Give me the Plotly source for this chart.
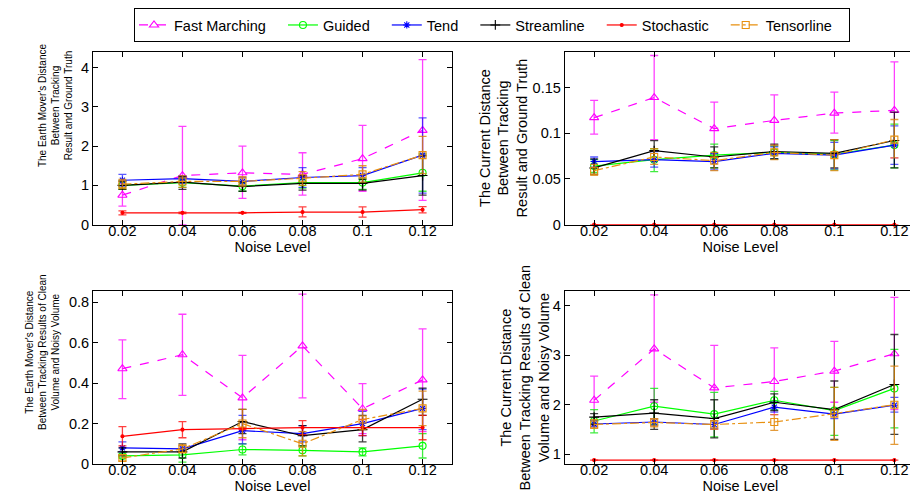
import plotly.graph_objects as go

x_vals = [0.02, 0.04, 0.06, 0.08, 0.10, 0.12]
x_ticktext = ["0.02", "0.04", "0.06", "0.08", "0.1", "0.12"]
methods = ["Fast Marching", "Guided", "Tend", "Streamline", "Stochastic", "Tensorline"]

# Panel 1: Earth Mover's Distance, tracking result vs ground truth
emd_gt_mean = {
    "Fast Marching": [0.75, 1.25, 1.32, 1.28, 1.68, 2.40],
    "Guided":        [1.00, 1.07, 0.98, 1.07, 1.07, 1.32],
    "Tend":          [1.13, 1.17, 1.10, 1.20, 1.25, 1.77],
    "Streamline":    [1.00, 1.08, 0.97, 1.05, 1.05, 1.25],
    "Stochastic":    [0.30, 0.30, 0.30, 0.32, 0.32, 0.38],
    "Tensorline":    [1.03, 1.10, 1.10, 1.18, 1.28, 1.77],
}
emd_gt_hi = {
    "Fast Marching": [1.05, 2.50, 2.00, 1.83, 2.53, 4.20],
    "Guided":        [1.12, 1.20, 1.10, 1.20, 1.18, 1.80],
    "Tend":          [1.28, 1.25, 1.20, 1.45, 1.45, 2.72],
    "Streamline":    [1.10, 1.22, 1.08, 1.25, 1.15, 1.75],
    "Stochastic":    [0.35, 0.32, 0.31, 0.45, 0.45, 0.46],
    "Tensorline":    [1.15, 1.25, 1.22, 1.35, 1.50, 2.25],
}
emd_gt_lo = {
    "Fast Marching": [0.47, 0.00, 0.67, 0.75, 0.85, 0.62],
    "Guided":        [0.90, 0.95, 0.85, 0.93, 0.90, 0.85],
    "Tend":          [0.98, 1.05, 1.00, 0.95, 1.05, 0.80],
    "Streamline":    [0.90, 0.90, 0.85, 0.88, 0.88, 0.75],
    "Stochastic":    [0.25, 0.28, 0.29, 0.20, 0.19, 0.30],
    "Tensorline":    [0.92, 0.95, 0.98, 1.00, 1.08, 1.30],
}

# Panel 2: Current distance, tracking result vs ground truth
cur_gt_mean = {
    "Fast Marching": [0.117, 0.139, 0.105, 0.114, 0.122, 0.125],
    "Guided":        [0.064, 0.071, 0.076, 0.079, 0.077, 0.087],
    "Tend":          [0.069, 0.071, 0.069, 0.078, 0.076, 0.087],
    "Streamline":    [0.062, 0.081, 0.074, 0.080, 0.078, 0.092],
    "Stochastic":    [0.0, 0.0, 0.0, 0.0, 0.0, 0.0],
    "Tensorline":    [0.059, 0.074, 0.070, 0.079, 0.076, 0.093],
}
cur_gt_hi = {
    "Fast Marching": [0.136, 0.185, 0.134, 0.142, 0.145, 0.178],
    "Guided":        [0.071, 0.083, 0.088, 0.086, 0.092, 0.110],
    "Tend":          [0.074, 0.080, 0.078, 0.085, 0.090, 0.108],
    "Streamline":    [0.072, 0.092, 0.085, 0.088, 0.093, 0.123],
    "Stochastic":    [0.0, 0.0, 0.0, 0.0, 0.0, 0.0],
    "Tensorline":    [0.066, 0.083, 0.079, 0.087, 0.093, 0.115],
}
cur_gt_lo = {
    "Fast Marching": [0.099, 0.093, 0.077, 0.087, 0.100, 0.073],
    "Guided":        [0.057, 0.058, 0.062, 0.072, 0.060, 0.062],
    "Tend":          [0.063, 0.063, 0.060, 0.072, 0.061, 0.066],
    "Streamline":    [0.055, 0.070, 0.062, 0.072, 0.062, 0.062],
    "Stochastic":    [0.0, 0.0, 0.0, 0.0, 0.0, 0.0],
    "Tensorline":    [0.054, 0.066, 0.059, 0.071, 0.059, 0.073],
}

# Panel 3: Earth Mover's Distance, clean vs noisy volume
emd_cn_mean = {
    "Fast Marching": [0.471, 0.540, 0.327, 0.584, 0.273, 0.416],
    "Guided":        [0.040, 0.045, 0.072, 0.068, 0.060, 0.090],
    "Tend":          [0.080, 0.075, 0.165, 0.150, 0.200, 0.275],
    "Streamline":    [0.060, 0.060, 0.210, 0.140, 0.170, 0.320],
    "Stochastic":    [0.137, 0.170, 0.175, 0.180, 0.180, 0.180],
    "Tensorline":    [0.030, 0.075, 0.200, 0.100, 0.220, 0.275],
}
emd_cn_hi = {
    "Fast Marching": [0.613, 0.740, 0.537, 0.839, 0.397, 0.668],
    "Guided":        [0.050, 0.070, 0.100, 0.090, 0.080, 0.150],
    "Tend":          [0.110, 0.090, 0.240, 0.190, 0.260, 0.370],
    "Streamline":    [0.080, 0.100, 0.270, 0.190, 0.240, 0.375],
    "Stochastic":    [0.185, 0.210, 0.180, 0.215, 0.220, 0.240],
    "Tensorline":    [0.045, 0.095, 0.270, 0.160, 0.270, 0.360],
}
emd_cn_lo = {
    "Fast Marching": [0.323, 0.339, 0.120, 0.327, 0.150, 0.160],
    "Guided":        [0.030, 0.010, 0.045, 0.040, 0.040, 0.030],
    "Tend":          [0.060, 0.060, 0.100, 0.110, 0.140, 0.170],
    "Streamline":    [0.040, 0.030, 0.150, 0.090, 0.110, 0.240],
    "Stochastic":    [0.090, 0.130, 0.170, 0.145, 0.140, 0.120],
    "Tensorline":    [0.015, 0.055, 0.130, 0.040, 0.170, 0.190],
}

# Panel 4: Current distance, clean vs noisy volume
cur_cn_mean = {
    "Fast Marching": [2.09, 3.13, 2.34, 2.47, 2.68, 3.03],
    "Guided":        [1.67, 1.97, 1.81, 2.09, 1.88, 2.33],
    "Tend":          [1.61, 1.65, 1.60, 1.95, 1.81, 1.99],
    "Streamline":    [1.75, 1.83, 1.72, 2.05, 1.90, 2.41],
    "Stochastic":    [0.88, 0.88, 0.88, 0.88, 0.88, 0.88],
    "Tensorline":    [1.60, 1.64, 1.60, 1.65, 1.82, 2.00],
}
cur_cn_hi = {
    "Fast Marching": [2.58, 4.22, 3.20, 3.15, 3.28, 4.17],
    "Guided":        [1.90, 2.33, 2.25, 2.27, 2.35, 3.12],
    "Tend":          [1.68, 1.72, 1.68, 2.05, 1.90, 2.15],
    "Streamline":    [1.82, 2.10, 2.10, 2.22, 2.48, 3.42],
    "Stochastic":    [0.88, 0.88, 0.88, 0.88, 0.88, 0.88],
    "Tensorline":    [1.70, 1.72, 1.68, 1.80, 2.35, 2.78],
}
cur_cn_lo = {
    "Fast Marching": [1.60, 2.05, 1.50, 1.80, 2.05, 1.90],
    "Guided":        [1.43, 1.60, 1.35, 1.90, 1.38, 1.53],
    "Tend":          [1.55, 1.58, 1.52, 1.85, 1.72, 1.85],
    "Streamline":    [1.60, 1.50, 1.33, 1.88, 1.30, 1.40],
    "Stochastic":    [0.88, 0.88, 0.88, 0.88, 0.88, 0.88],
    "Tensorline":    [1.52, 1.55, 1.50, 1.48, 1.28, 1.20],
}

y_titles = [
    "The Earth Mover's Distance<br>Between Tracking<br>Result and Ground Truth",
    "The Current Distance<br>Between Tracking<br>Result and Ground Truth",
    "The Earth Mover's Distance<br>Between Tracking Results of Clean<br>Volume and Noisy Volume",
    "The Current Distance<br>Between Tracking Results of Clean<br>Volume and Noisy Volume",
]

styles = {
    "Fast Marching": dict(color="#ff00ff", err="rgba(255,0,255,0.75)", dash="dash", symbol="triangle-up-open", size=8),
    "Guided":        dict(color="#00ff00", err="rgba(0,230,0,0.75)", dash="solid", symbol="circle-open", size=7),
    "Tend":          dict(color="#0000ff", err="rgba(0,0,255,0.65)", dash="solid", symbol="asterisk-open", size=6),
    "Streamline":    dict(color="#000000", err="rgba(0,0,0,0.75)", dash="solid", symbol="cross-thin-open", size=7),
    "Stochastic":    dict(color="#ff0000", err="rgba(255,0,0,0.75)", dash="solid", symbol="circle", size=3),
    "Tensorline":    dict(color="#e8900f", err="rgba(220,130,10,0.8)", dash="dashdot", symbol="square-open", size=7),
}

FONT = "Liberation Sans, Arial, Helvetica, sans-serif"
FS = 14.5
NBSP = "\u00a0"

panels = [
    (emd_gt_mean, emd_gt_hi, emd_gt_lo),
    (cur_gt_mean, cur_gt_hi, cur_gt_lo),
    (emd_cn_mean, emd_cn_hi, emd_cn_lo),
    (cur_cn_mean, cur_cn_hi, cur_cn_lo),
]

W, H = 918, 501
# domains in pixels (left, right, top, bottom)
px_boxes = [(85, 444, 42.7, 219), (556.7, 908, 42.7, 219),
            (85, 444, 286.7, 463.3), (556.7, 908, 286.7, 463.3)]
x_ranges = [[0.0102, 0.1298], [0.0102, 0.1272], [0.0102, 0.1298], [0.0102, 0.1272]]
y_ranges = [[0, 4.4], [0, 0.189], [0, 0.855], [0.8, 4.3]]
y_tickvals = [[0, 1, 2, 3, 4], [0, 0.05, 0.1, 0.15], [0, 0.2, 0.4, 0.6, 0.8], [1, 2, 3, 4]]
y_ticktext = [["0", "1", "2", "3", "4"], ["0", "0.05", "0.1", "0.15"],
              ["0", "0.2", "0.4", "0.6", "0.8"], ["1", "2", "3", "4"]]
title_x_px = [47, 496, 34, 517]
title_y_px = [97, 131, 349, 375]
title_fs = [10, 14.5, 10, 14.5]

fig = go.Figure()
layout = {}
annotations = []
for i, (mean, hi, lo) in enumerate(panels):
    xa = "x" if i == 0 else f"x{i+1}"
    ya = "y" if i == 0 else f"y{i+1}"
    for m in methods:
        st = styles[m]
        plus = [h - v for h, v in zip(hi[m], mean[m])]
        minus = [v - l for v, l in zip(mean[m], lo[m])]
        fig.add_trace(go.Scatter(
            x=x_vals, y=mean[m], name=m + NBSP * 3, xaxis=xa, yaxis=ya,
            mode="lines+markers",
            line=dict(color=st["color"], width=1.2, dash=st["dash"]),
            marker=dict(symbol=st["symbol"], size=st["size"], color=st["color"],
                        line=dict(color=st["color"], width=1.1)),
            error_y=dict(type="data", symmetric=False, array=plus, arrayminus=minus,
                         color=st["err"], thickness=1.3, width=4),
            showlegend=(i == 0), legendgroup=m, cliponaxis=False,
        ))
    l, r, t, b = px_boxes[i]
    kx = "xaxis" if i == 0 else f"xaxis{i+1}"
    ky = "yaxis" if i == 0 else f"yaxis{i+1}"
    layout[kx] = dict(
        domain=[l / W, r / W], range=x_ranges[i], anchor=ya,
        tickvals=x_vals, ticktext=x_ticktext,
        ticks="inside", ticklen=5, tickcolor="black", mirror="allticks",
        showline=True, linecolor="black", linewidth=1, showgrid=False, zeroline=False,
        tickfont=dict(family=FONT, size=FS, color="black"), ticklabelstandoff=-7,
        title=dict(text="Noise Level", font=dict(family=FONT, size=FS, color="black"), standoff=0),
    )
    layout[ky] = dict(
        domain=[1 - b / H, 1 - t / H], range=y_ranges[i], anchor=xa,
        tickvals=y_tickvals[i], ticktext=y_ticktext[i],
        ticks="inside", ticklen=5, tickcolor="black", mirror="allticks",
        showline=True, linecolor="black", linewidth=1, showgrid=False, zeroline=False,
        tickfont=dict(family=FONT, size=FS, color="black"),
    )
    annotations.append(dict(
        text=y_titles[i], textangle=-90, xref="paper", yref="paper",
        x=title_x_px[i] / W, y=1 - title_y_px[i] / H, xanchor="center", yanchor="middle",
        showarrow=False, font=dict(family=FONT, size=title_fs[i], color="black"), align="center",
    ))

fig.update_layout(
    **layout,
    annotations=annotations,
    width=W, height=H,
    margin=dict(l=0, r=0, t=0, b=0),
    paper_bgcolor="white", plot_bgcolor="white",
    font=dict(family=FONT, size=FS, color="black"),
    legend=dict(orientation="h", x=484 / W, xanchor="center", y=1 + 2 / H, yanchor="top",
                bordercolor="black", borderwidth=1, bgcolor="white",
                font=dict(family=FONT, size=FS, color="black"),
                itemwidth=30, tracegroupgap=0),
)

fig.write_html("out.html")
